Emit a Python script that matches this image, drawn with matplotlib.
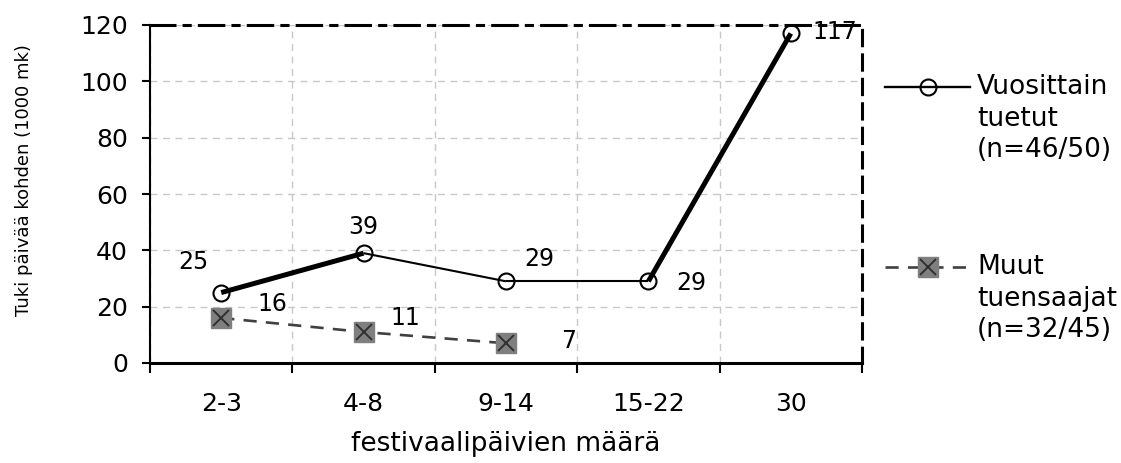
import matplotlib

matplotlib.use("Agg")
import matplotlib.pyplot as plt
from matplotlib.lines import Line2D
import numpy as np

# data
CATEGORIES = ["2-3", "4-8", "9-14", "15-22", "30"]
VUOSITTAIN = [25, 39, 29, 29, 117]
MUUT = [16, 11, 7]
VUOSITTAIN_LABEL = ["Vuosittain", "tuetut", "(n=46/50)"]
MUUT_LABEL = ["Muut", "tuensaajat", "(n=32/45)"]

# styles
SEG_WIDTH = [3.6, 1.5, 1.5, 3.6]   # excel drew some segments heavier
GRID = "#c8c8c8"
DASH_GREY = "#404040"
BOX_GREY = "#7f7f7f"
W, H = 1121, 463


def fx(px):
    return px / W


def fy(py):
    return 1 - py / H


def circle_style():
    return dict(marker="o", markersize=11.5, markerfacecolor="none",
                markeredgecolor="black", markeredgewidth=1.5)


def square_style():
    return dict(marker="s", markersize=14, markerfacecolor=BOX_GREY,
                markeredgecolor=BOX_GREY)


def cross_style():
    return dict(marker="x", markersize=11, markeredgecolor="#303030",
                markeredgewidth=1.4)


def main():
    plt.rcParams["font.family"] = ["DejaVu Sans"]
    fig = plt.figure(figsize=(W / 100, H / 100), dpi=100)
    ax = fig.add_axes([fx(150), fy(363), 712 / W, 338 / H])

    x = np.arange(len(CATEGORIES)) + 0.5
    ax.set_xlim(0, len(CATEGORIES))
    ax.set_ylim(0, 120)

    # solid series, segment by segment
    for i in range(len(VUOSITTAIN) - 1):
        ax.plot(x[i:i + 2], VUOSITTAIN[i:i + 2], color="black",
                linewidth=SEG_WIDTH[i], solid_capstyle="butt", zorder=3)
    ax.plot(x, VUOSITTAIN, linestyle="none", zorder=4, clip_on=False,
            **circle_style())

    # dashed series
    xm = x[:len(MUUT)]
    ax.plot(xm, MUUT, color=DASH_GREY, linewidth=1.9, dashes=(5, 3.5), zorder=3)
    ax.plot(xm, MUUT, linestyle="none", zorder=4, **square_style())
    ax.plot(xm, MUUT, linestyle="none", zorder=5, **cross_style())

    # value labels (offsets in points)
    offs1 = [(-20, 22), (0, 19), (24, 16), (31, -1), (32, 1)]
    for xi, v, off in zip(x, VUOSITTAIN, offs1):
        ax.annotate(str(v), (xi, v), xytext=off, textcoords="offset points",
                    ha="center", va="center", fontsize=17)
    offs2 = [(37, 10), (30, 10), (45, 2)]
    for xi, v, off in zip(xm, MUUT, offs2):
        ax.annotate(str(v), (xi, v), xytext=off, textcoords="offset points",
                    ha="center", va="center", fontsize=17)

    # axes styling
    ax.set_xticks(np.arange(len(CATEGORIES) + 1))
    ax.set_xticklabels([])
    ax.set_xticks(x, minor=True)
    ax.set_xticklabels(CATEGORIES, minor=True, fontsize=18)
    ax.tick_params(axis="x", which="minor", length=0, pad=21)
    ax.tick_params(axis="x", which="major", direction="out", length=7, width=1.5)
    ax.set_yticks(np.arange(0, 121, 20))
    ax.tick_params(axis="y", labelsize=18, direction="out", length=6,
                   width=1.5, pad=10)
    ax.grid(True, which="major", color=GRID, linestyle=(0, (5, 4)), linewidth=1)
    ax.set_axisbelow(True)

    ax.spines["left"].set_linewidth(1.5)
    ax.spines["bottom"].set_linewidth(2.2)
    ax.spines["top"].set_linewidth(2.2)
    ax.spines["top"].set_linestyle((0, (8, 3, 2, 3)))
    ax.spines["right"].set_linewidth(2.2)
    ax.spines["right"].set_linestyle((0, (5, 3)))

    ax.set_xlabel("festivaalipäivien määrä", fontsize=19, labelpad=11)
    ax.set_ylabel("Tuki päivää kohden (1000 mk)", fontsize=13)
    ax.yaxis.set_label_coords(-0.165, 0.54)

    # legend drawn by hand so the handle sits on the first text line
    x0, x1, xc, xt = 885, 970, 928, 977
    y1, y2, step = 87, 267, 31.5
    fig.add_artist(Line2D([fx(x0), fx(x1)], [fy(y1)] * 2, color="black",
                          linewidth=1.7, transform=fig.transFigure))
    fig.add_artist(Line2D([fx(xc)], [fy(y1)], transform=fig.transFigure,
                          **circle_style()))
    fig.add_artist(Line2D([fx(x0), fx(x1)], [fy(y2)] * 2, color=DASH_GREY,
                          linewidth=1.9, dashes=(5, 3.5),
                          transform=fig.transFigure))
    fig.add_artist(Line2D([fx(xc)], [fy(y2)], transform=fig.transFigure,
                          **square_style()))
    fig.add_artist(Line2D([fx(xc)], [fy(y2)], transform=fig.transFigure,
                          **cross_style()))
    for y0, lines in [(y1, VUOSITTAIN_LABEL), (y2, MUUT_LABEL)]:
        for k, line in enumerate(lines):
            fig.text(fx(xt), fy(y0 + k * step), line, ha="left", va="center",
                     fontsize=19)

    fig.savefig("out.png", dpi=100, facecolor="white")


if __name__ == "__main__":
    main()
